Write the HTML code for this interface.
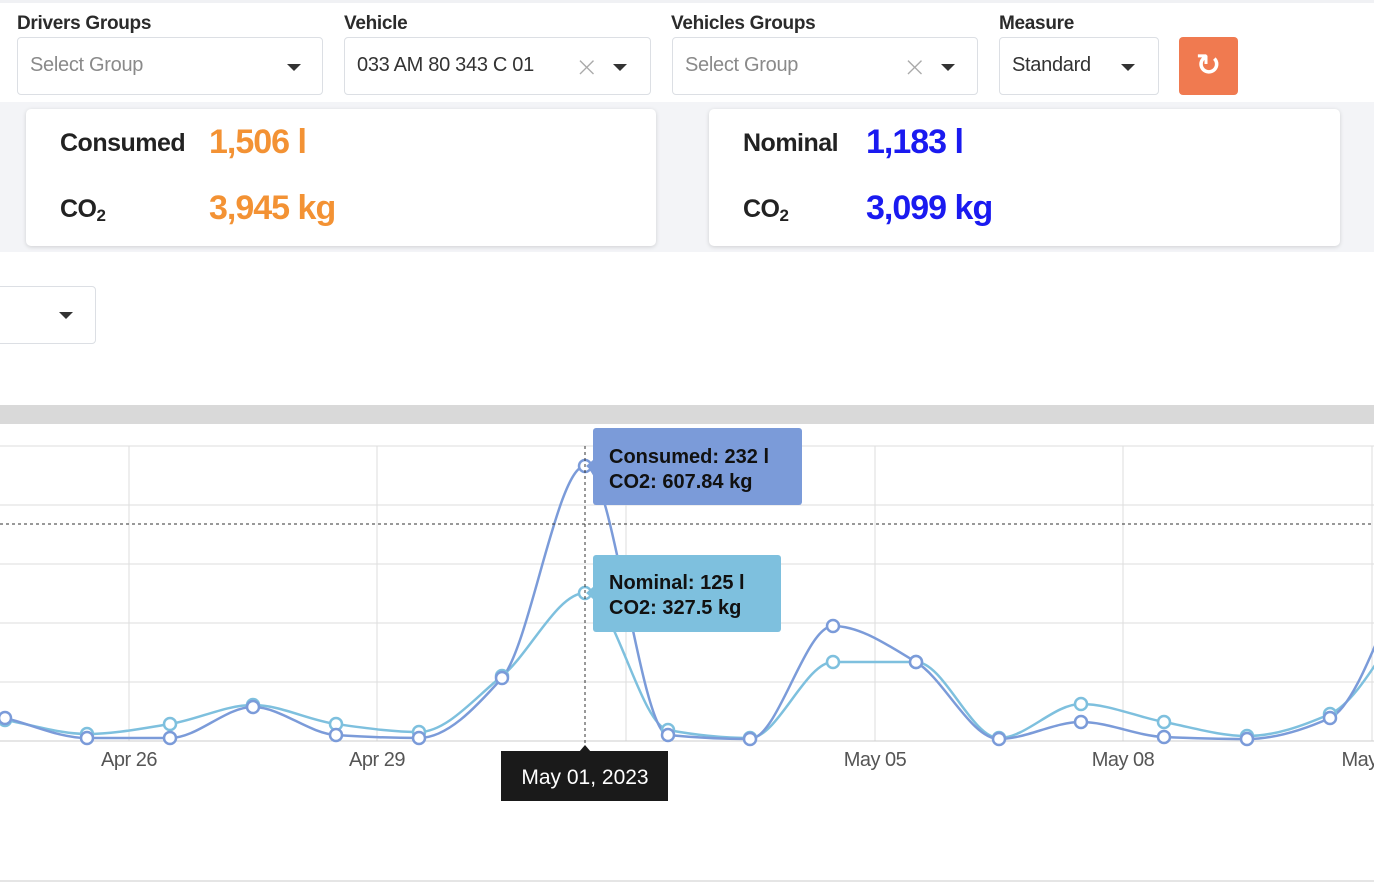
<!DOCTYPE html>
<html><head><meta charset="utf-8"><style>
*{box-sizing:border-box;margin:0;padding:0}
body{width:1374px;height:884px;overflow:hidden;background:#fff;font-family:"Liberation Sans",sans-serif;position:relative;color:#222}
.top{position:absolute;left:0;top:0;width:1374px;height:102px;background:#fff;border-top:3px solid #f0f1f4}
.lbl{position:absolute;top:10px;font-weight:bold;font-size:19px;color:#2b2b2b;letter-spacing:-0.3px}
.sel{position:absolute;top:37px;height:58px;border:1px solid #dcdfe4;border-radius:4px;background:#fff;font-size:20px;color:#8a8a8a;padding:16px 12px;letter-spacing:-0.3px}
.sel .ar{position:absolute;top:26px;width:0;height:0;border-left:7px solid transparent;border-right:7px solid transparent;border-top:7px solid #333}
.sel .x{position:absolute;top:12px;font-size:28px;color:#aaa;font-family:"DejaVu Sans",sans-serif;font-weight:200}
.band{position:absolute;left:0;top:102px;width:1374px;height:150px;background:#f3f4f7}
.card{position:absolute;top:7px;height:137px;background:#fff;border-radius:5px;box-shadow:0 1px 4px rgba(0,0,0,.15)}
.k{position:absolute;font-weight:bold;font-size:25px;color:#222;letter-spacing:-0.5px}
.v{position:absolute;font-weight:bold;font-size:34px;letter-spacing:-1px}
sub{font-size:17px;vertical-align:-4px}
</style></head><body>
<div class="top">
<div class="lbl" style="left:17px">Drivers Groups</div>
<div class="lbl" style="left:344px">Vehicle</div>
<div class="lbl" style="left:671px">Vehicles Groups</div>
<div class="lbl" style="left:999px">Measure</div>
<div class="sel" style="left:17px;width:306px;top:34px">Select Group<span class="ar" style="left:269px"></span></div>
<div class="sel" style="left:344px;width:307px;top:34px;color:#333">033 AM 80 343 C 01<span class="x" style="left:230px">×</span><span class="ar" style="left:268px"></span></div>
<div class="sel" style="left:672px;width:306px;top:34px">Select Group<span class="x" style="left:230px">×</span><span class="ar" style="left:268px"></span></div>
<div class="sel" style="left:999px;width:160px;top:34px;color:#333">Standard<span class="ar" style="left:121px"></span></div>
<div style="position:absolute;left:1179px;top:34px;width:59px;height:58px;background:#f07a50;border-radius:4px;color:#fff;font-size:30px;font-weight:bold;text-align:center;line-height:58px;font-family:'DejaVu Sans',sans-serif">↻</div>
</div>
<div class="band">
<div class="card" style="left:26px;width:630px">
<div class="k" style="left:34px;top:20px">Consumed</div><div class="v" style="left:183px;top:14px;color:#f39234">1,506 l</div>
<div class="k" style="left:34px;top:86px">CO<sub>2</sub></div><div class="v" style="left:183px;top:80px;color:#f39234">3,945 kg</div>
</div>
<div class="card" style="left:709px;width:631px">
<div class="k" style="left:34px;top:20px">Nominal</div><div class="v" style="left:157px;top:14px;color:#1a1af0">1,183 l</div>
<div class="k" style="left:34px;top:86px">CO<sub>2</sub></div><div class="v" style="left:157px;top:80px;color:#1a1af0">3,099 kg</div>
</div>
</div>
<div style="position:absolute;left:-10px;top:286px;width:106px;height:58px;border:1px solid #dcdfe4;border-radius:4px"><span style="position:absolute;left:68px;top:25px;border-left:7px solid transparent;border-right:7px solid transparent;border-top:7px solid #333"></span></div>
<div style="position:absolute;left:0;top:405px;width:1374px;height:19px;background:#d9d9d9"></div>
<div style="position:absolute;left:0;top:880px;width:1374px;height:2px;background:#e5e5e5"></div>
<svg id="c" width="1374" height="884" style="position:absolute;left:0;top:0" font-family="Liberation Sans, sans-serif"></svg>
<script>
var s='';
[446,505,564,623,682,741].forEach(function(y){s+='<line x1="0" x2="1374" y1="'+y+'" y2="'+y+'" stroke="#ddd" stroke-width="1"/>';});
[129,377,626,875,1123,1372].forEach(function(x){s+='<line x1="'+x+'" x2="'+x+'" y1="446" y2="741" stroke="#ddd"/>';});
s+='<line x1="0" x2="1374" y1="741" y2="741" stroke="#ccc"/>';
var labs=[[129,'Apr 26'],[377,'Apr 29'],[626,'May 02'],[875,'May 05'],[1123,'May 08'],[1372,'May 11']];
labs.forEach(function(l){s+='<text x="'+l[0]+'" y="766" font-size="20" fill="#555" text-anchor="middle" letter-spacing="-0.5">'+l[1]+'</text>';});
var xs=[5,87,170,253,336,419,502,585,668,750,833,916,999,1081,1164,1247,1330,1413];
var cy=[718,738,738,707,735,738,678,466,735,739,626,662,739,722,737,739,718,560];
var ny=[720,734,724,705,724,732,676,593,730,738,662,662,738,704,722,736,714,610];
function path(y){var n=xs.length,d=[],m=[];for(var i=0;i<n-1;i++)d.push((y[i+1]-y[i])/(xs[i+1]-xs[i]));
m[0]=d[0];m[n-1]=d[n-2];for(var i=1;i<n-1;i++){m[i]=(d[i-1]*d[i]<=0)?0:2/(1/d[i-1]+1/d[i]);}
var p='M'+xs[0]+','+y[0];for(var i=0;i<n-1;i++){var h=(xs[i+1]-xs[i])/3;p+=' C'+(xs[i]+h)+','+(y[i]+m[i]*h)+' '+(xs[i+1]-h)+','+(y[i+1]-m[i+1]*h)+' '+xs[i+1]+','+y[i+1];}return p;}
function dots(y,c){var r='';for(var i=0;i<xs.length-1;i++)r+='<circle cx="'+xs[i]+'" cy="'+y[i]+'" r="6" fill="#fff" stroke="'+c+'" stroke-width="2.5"/>';return r;}
s+='<path d="'+path(ny)+'" fill="none" stroke="#7ec0de" stroke-width="2.5"/>';
s+='<path d="'+path(cy)+'" fill="none" stroke="#7b9bd9" stroke-width="2.5"/>';
s+=dots(ny,'#7ec0de')+dots(cy,'#7b9bd9');
s+='<line x1="0" x2="1374" y1="524" y2="524" stroke="#333" stroke-dasharray="3,3"/>';
s+='<line x1="585" x2="585" y1="446" y2="750" stroke="#333" stroke-dasharray="3,3"/>';
s+='<rect x="593" y="428" width="209" height="77" rx="3" fill="#7b9bd9"/><path d="M593,460 L586,466 L593,472Z" fill="#7b9bd9"/>';
s+='<text x="609" y="463" font-size="20" font-weight="bold" fill="#111">Consumed: 232 l</text><text x="609" y="488" font-size="20" font-weight="bold" fill="#111">CO2: 607.84 kg</text>';
s+='<rect x="593" y="555" width="188" height="77" rx="3" fill="#7ec0de"/><path d="M593,587 L586,593 L593,599Z" fill="#7ec0de"/>';
s+='<text x="609" y="589" font-size="20" font-weight="bold" fill="#111">Nominal: 125 l</text><text x="609" y="614" font-size="20" font-weight="bold" fill="#111">CO2: 327.5 kg</text>';
s+='<path d="M579,752 L585,745 L591,752Z" fill="#1a1a1a"/><rect x="501" y="751" width="167" height="50" fill="#1a1a1a"/>';
s+='<text x="585" y="784" font-size="21" fill="#fff" text-anchor="middle">May 01, 2023</text>';
document.getElementById('c').innerHTML=s;
</script>
</body></html>
